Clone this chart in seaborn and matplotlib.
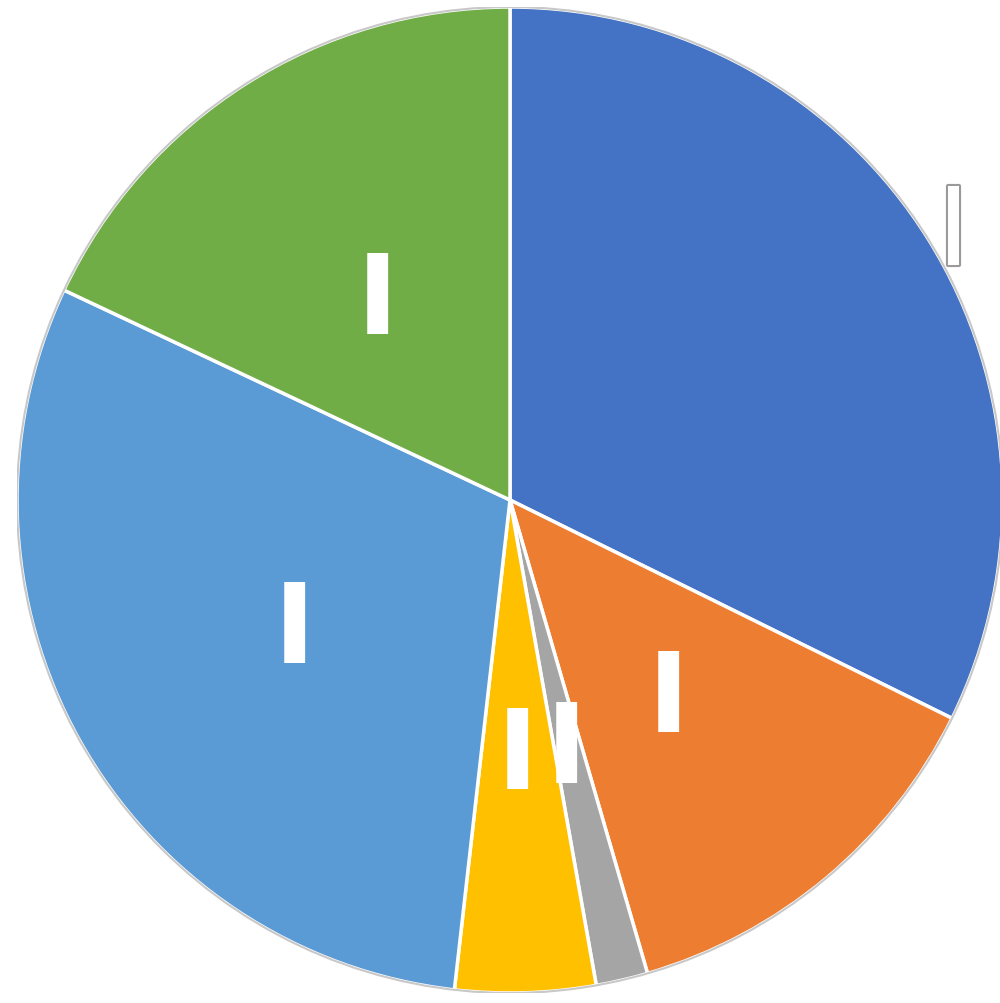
import numpy as np
import matplotlib
matplotlib.use("Agg")
import matplotlib.pyplot as plt
import matplotlib.patheffects as pe
import matplotlib.transforms as mtransforms
import seaborn as sns

# slices clockwise from 12 o'clock
categories = ["A", "B", "C", "D", "E", "F"]
shares = [32.3, 13.2, 1.7, 4.6, 30.2, 18.0]
labels = ["I", "I", "I", "I", "I", "I"]
colors = ["#4472C4", "#ED7D31", "#A5A5A5", "#FFC000", "#5B9BD5", "#70AD47"]

sns.set_theme(style="white")
palette = sns.color_palette(colors)

fig = plt.figure(figsize=(10, 10.04), dpi=100)
W, H = 1000, 1004
cx, cy, r = 510, 501, 493
ax = fig.add_axes([(cx - r) / W, (H - cy - r) / H, 2 * r / W, 2 * r / H])

wedges, texts = ax.pie(shares, labels=labels, colors=palette, startangle=90,
                       counterclock=False, labeldistance=0.5, radius=1,
                       wedgeprops=dict(edgecolor="white", linewidth=2.5),
                       textprops=dict(color="white", fontsize=80, fontweight="bold",
                                      ha="center", va="center"))

# glyphs sit a little lower in the original
shift = mtransforms.ScaledTranslation(0, -8 / 72, fig.dpi_scale_trans)
for t in texts:
    t.set_transform(ax.transData + shift)

# the first label sits outside the pie, white with a grey outline
x, y = texts[0].get_position()
texts[0].set_position((x * 1.06 / 0.5, y * 1.06 / 0.5))
texts[0].set_fontsize(78)
texts[0].set_fontweight("normal")
texts[0].set_path_effects([pe.withStroke(linewidth=3, foreground="#9a9a9a"), pe.Normal()])

ax.add_patch(plt.Circle((0, 0), 1, fill=False, edgecolor="#c8c8c8", linewidth=1.5))
ax.set_xlim(-1, 1)
ax.set_ylim(-1, 1)
ax.set_aspect("equal")
ax.axis("off")

fig.savefig("out.png", dpi=100, facecolor="white")
